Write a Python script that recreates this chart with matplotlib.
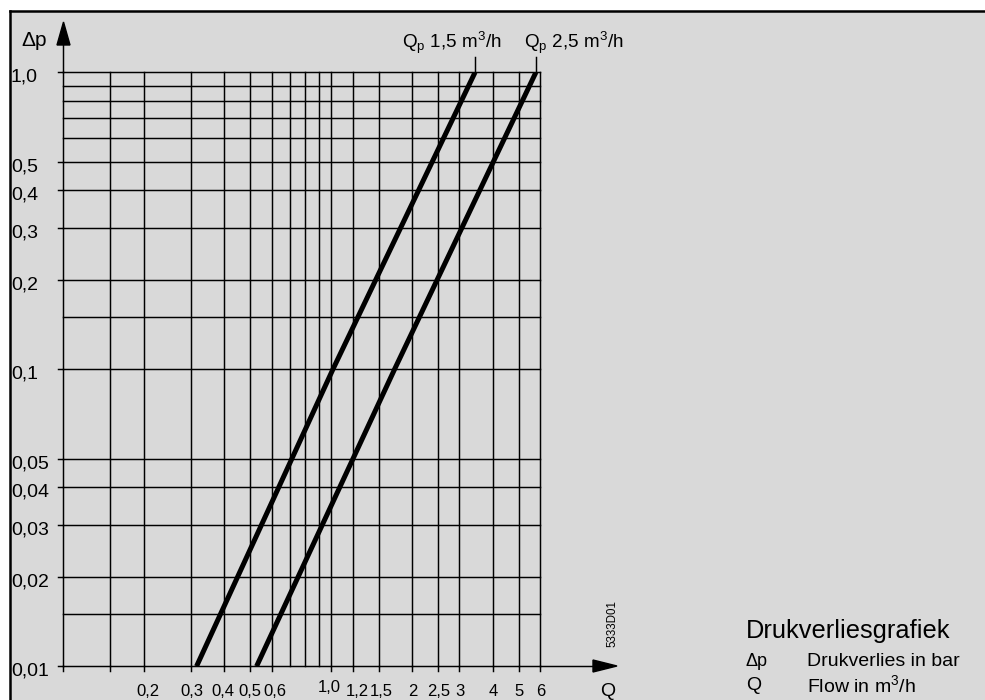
import matplotlib
matplotlib.use("Agg")
import matplotlib.pyplot as plt
from matplotlib.patches import Rectangle, Polygon
from matplotlib.lines import Line2D
from matplotlib.ticker import NullLocator
import matplotlib.transforms as mtransforms

plt.rcParams['font.family'] = ['Liberation Sans', 'DejaVu Sans']
plt.rcParams['mathtext.fontset'] = 'custom'
plt.rcParams['mathtext.rm'] = 'Liberation Sans'
plt.rcParams['mathtext.it'] = 'Liberation Sans:italic'

# ---- data ----
dp_points = [0.01, 0.1, 1.0]
q_qp15 = [0.315, 1.014, 3.43]
q_qp25 = [0.527, 1.72, 5.78]
curve_labels = ['Q$_\\mathrm{p}$ 1,5 m$^\\mathrm{3}$/h', 'Q$_\\mathrm{p}$ 2,5 m$^\\mathrm{3}$/h']

x_grid = [0.1, 0.15, 0.2, 0.3, 0.4, 0.5, 0.6, 0.7, 0.8, 0.9, 1.0, 1.2, 1.5, 2, 2.5, 3, 4, 5, 6]
x_ticks = [0.2, 0.3, 0.4, 0.5, 0.6, 1.0, 1.2, 1.5, 2, 2.5, 3, 4, 5, 6]
x_tick_labels = ['0,2', '0,3', '0,4', '0,5', '0,6', '1,0', '1,2', '1,5', '2', '2,5', '3', '4', '5', '6']
y_grid = [0.01, 0.015, 0.02, 0.03, 0.04, 0.05, 0.1, 0.15, 0.2, 0.3, 0.4, 0.5, 0.6, 0.7, 0.8, 0.9, 1.0]
y_ticks = [0.01, 0.02, 0.03, 0.04, 0.05, 0.1, 0.2, 0.3, 0.4, 0.5, 1.0]
y_tick_labels = ['0,01', '0,02', '0,03', '0,04', '0,05', '0,1', '0,2', '0,3', '0,4', '0,5', '1,0']

# label nudges in pixels (layout only), as in the original drawing
x_label_dx = {'0,2': 4, '0,3': 1, '0,4': -2, '0,5': -1, '0,6': 3, '1,0': -2,
              '1,2': 5, '1,5': 3, '2': 1, '2,5': 1}
x_label_dy = {'1,0': -3}

W, H = 985, 700
fig = plt.figure(figsize=(W / 100, H / 100), dpi=100)
fig.patch.set_facecolor('white')

def fx(px):
    return px / W

def fy(py):
    return 1 - py / H

# gray panel with top/left border
fig.add_artist(Rectangle((fx(10), 0), 1 - fx(10), fy(11), transform=fig.transFigure,
                         facecolor='#d9d9d9', edgecolor='none', zorder=0))
fig.add_artist(Line2D([fx(10), fx(10)], [0, fy(11)], transform=fig.transFigure,
                      color='black', lw=1.8, zorder=1))
fig.add_artist(Line2D([fx(10), 1], [fy(11), fy(11)], transform=fig.transFigure,
                      color='black', lw=1.8, zorder=1))

L, R, T, B = 62.7, 540.3, 72.3, 666.3
ax = fig.add_axes([fx(L), fy(B), (R - L) / W, (B - T) / H])
ax.set_facecolor('none')
ax.set_xscale('log')
ax.set_yscale('log')
ax.set_xlim(0.1, 6)
ax.set_ylim(0.01, 1.0)
for s in ax.spines.values():
    s.set_visible(False)
for axis in (ax.xaxis, ax.yaxis):
    axis.set_major_locator(NullLocator())
    axis.set_minor_locator(NullLocator())

grid_lw = 1.05
for xv in x_grid:
    ax.axvline(xv, color='black', lw=grid_lw, clip_on=False, zorder=2)
for yv in y_grid:
    ax.axhline(yv, color='black', lw=grid_lw, clip_on=False, zorder=2)

# tick marks (outward)
tick_px = 5
bx = mtransforms.blended_transform_factory(ax.transData, ax.transAxes)
by = mtransforms.blended_transform_factory(ax.transAxes, ax.transData)
for xv in [0.1, 0.15] + x_ticks:
    ax.plot([xv, xv], [0, -tick_px / (B - T)], transform=bx,
            color='black', lw=grid_lw, clip_on=False, zorder=2)
for yv in y_ticks:
    ax.plot([0, -tick_px / (R - L)], [yv, yv], transform=by,
            color='black', lw=grid_lw, clip_on=False, zorder=2)

# tick labels
bt_x = mtransforms.blended_transform_factory(ax.transData, fig.transFigure)
for xv, lab in zip(x_ticks, x_tick_labels):
    dx = x_label_dx.get(lab, 0) / 100
    dy = -x_label_dy.get(lab, 0) / 100
    tr = bt_x + mtransforms.ScaledTranslation(dx, dy, fig.dpi_scale_trans)
    ax.text(xv, fy(691), lab, transform=tr, ha='center', va='center', fontsize=12)
bt_y = mtransforms.blended_transform_factory(fig.transFigure, ax.transData)
offs = mtransforms.ScaledTranslation(0, -5 / 100, fig.dpi_scale_trans)
for yv, lab in zip(y_ticks, y_tick_labels):
    ax.text(fx(11), yv, lab, transform=bt_y + offs, ha='left', va='center', fontsize=14)

# axis arrows
fa = lambda px: (px - L) / (R - L)
fb = lambda py: (B - py) / (B - T)
ax.plot([0, 0], [1, fb(45)], transform=ax.transAxes, color='black', lw=grid_lw, clip_on=False)
ax.add_patch(Polygon([[fa(57), fb(45)], [fa(70), fb(45)], [fa(63.5), fb(22)]], closed=True,
                     transform=ax.transAxes, facecolor='black', edgecolor='black', clip_on=False))
ax.plot([1, fa(593)], [0, 0], transform=ax.transAxes, color='black', lw=grid_lw, clip_on=False)
ax.add_patch(Polygon([[fa(593), fb(660)], [fa(593), fb(672)], [fa(617), fb(666)]], closed=True,
                     transform=ax.transAxes, facecolor='black', edgecolor='black', clip_on=False))

fig.text(fx(21), fy(40), 'Δp', ha='left', va='center', fontsize=15)
fig.text(fx(608), fy(692), 'Q', ha='center', va='center', fontsize=14)

# curves
for q in (q_qp15, q_qp25):
    ax.plot(q, dp_points, color='black', lw=3.6, solid_capstyle='butt', zorder=3)

# curve labels with leader lines
label_offsets = [-72.7, -11.7]
for q, lab, off in zip((q_qp15, q_qp25), curve_labels, label_offsets):
    ax.plot([q[-1], q[-1]], [1.0, 10 ** (15 / 297)], color='black', lw=grid_lw, clip_on=False, zorder=3)
    ax.annotate(lab, xy=(q[-1], 1.0), xytext=(off, 29.3), textcoords='offset pixels',
                ha='left', va='center', fontsize=13.6, annotation_clip=False)

# side text
fig.text(fx(612), fy(624), '5333D01', rotation=90, ha='center', va='center', fontsize=8.3)
fig.text(fx(746), fy(631), 'Drukverliesgrafiek', ha='left', va='center', fontsize=18.3)
fig.text(fx(746), fy(661), 'Δp', ha='left', va='center', fontsize=13)
fig.text(fx(807), fy(661), 'Drukverlies in bar', ha='left', va='center', fontsize=14)
fig.text(fx(746), fy(685), 'Q', ha='left', va='center', fontsize=14)
fig.text(fx(807), fy(685), 'Flow in m$^\\mathrm{3}$/h', ha='left', va='center', fontsize=14)

fig.savefig('out.png', dpi=100)
